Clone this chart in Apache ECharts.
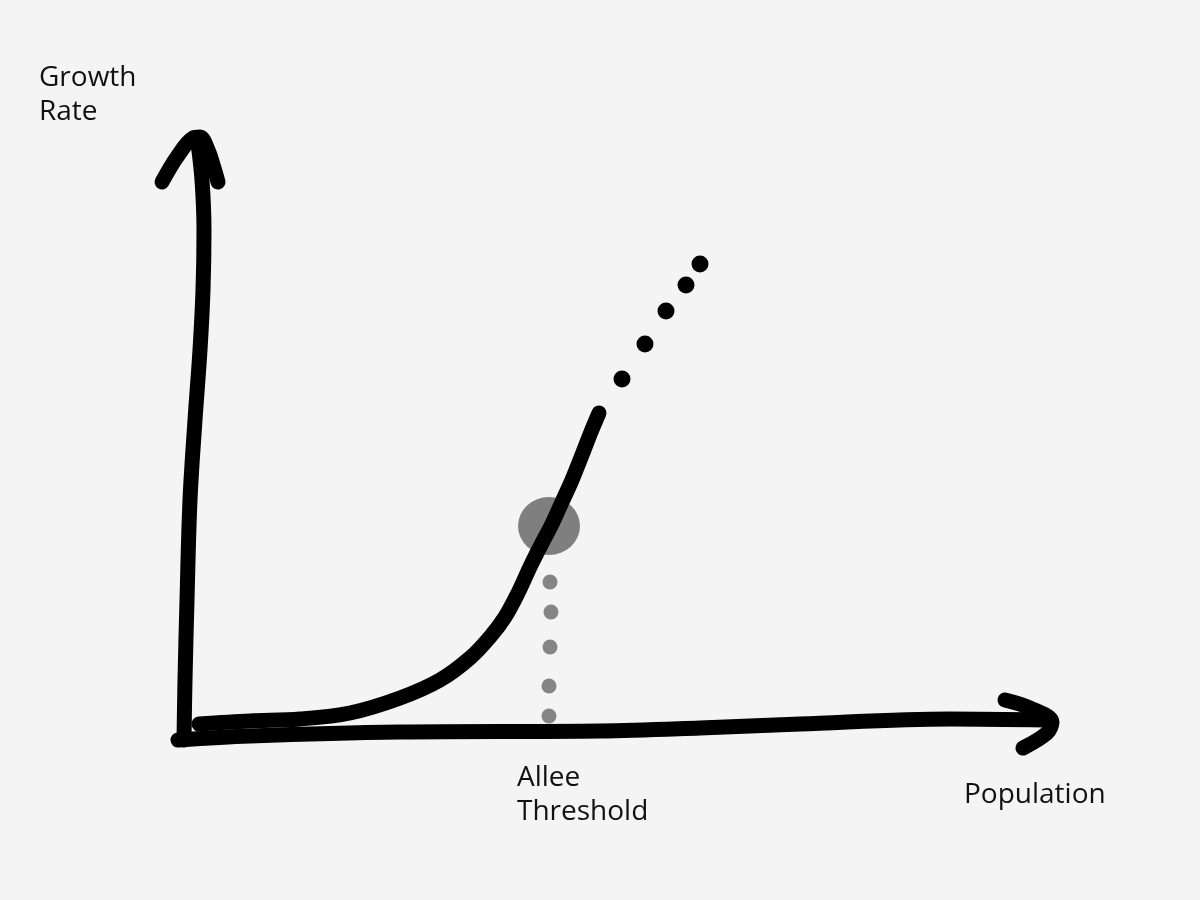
<!DOCTYPE html>
<html>
<head>
<meta charset="utf-8">
<script src="https://cdn.jsdelivr.net/npm/echarts@6/dist/echarts.min.js"></script>
<style>
  html, body { margin: 0; padding: 0; background: #f4f4f4; }
  #chart { width: 1200px; height: 900px; }
</style>
</head>
<body>
<div id="chart"></div>
<script>
// Hand-drawn sketch values in chart units (population on x, growth rate on y)
var yAxisStroke = [[-0.01,-0.05],[0.00,0.55],[0.02,1.35],[0.05,2.35],[0.10,3.15],[0.15,3.85],[0.18,4.45],[0.19,5.05],[0.17,5.55],[0.13,5.92]];
var yArrowHead  = [[-0.23,5.53],[-0.08,5.78],[0.08,5.97],[0.15,5.98],[0.23,5.85],[0.29,5.67],[0.33,5.53]];
var xAxisStroke = [[-0.07,-0.05],[0.65,-0.01],[2.15,0.03],[4.15,0.04],[5.15,0.07],[6.15,0.11],[7.65,0.16],[8.62,0.15]];
var xArrowHead  = [[8.20,0.35],[8.45,0.27],[8.67,0.13],[8.62,0.02],[8.38,-0.13]];
var growthCurve = [[0.14,0.11],[0.65,0.14],[1.15,0.16],[1.65,0.22],[2.15,0.37],[2.55,0.55],[2.85,0.77],[3.05,0.98],[3.20,1.18],[3.33,1.42],[3.45,1.68],[3.56,1.90],[3.67,2.11],[3.77,2.33],[3.87,2.55],[3.97,2.80],[4.06,3.03],[4.14,3.22]];
var growthDots  = [[4.37,3.56],[4.60,3.91],[4.81,4.24],[5.01,4.50],[5.15,4.71]];
var alleePoint  = [[3.64,2.09]];
var alleeDrop   = [[3.65,1.53],[3.66,1.23],[3.65,0.88],[3.64,0.49],[3.64,0.19]];
var labelGrowth = 'Growth\nRate';
var labelAllee  = 'Allee\nThreshold';
var labelPop    = 'Population';

var chart = echarts.init(document.getElementById('chart'), null, { renderer: 'canvas' });

function stroke(data, z) {
  return {
    type: 'line', data: data, smooth: 0.35, showSymbol: false, clip: false,
    z: z || 3, silent: true, animation: false,
    lineStyle: { color: '#000', width: 15, cap: 'round', join: 'round' }
  };
}

var textStyle = { fontFamily: 'Open Sans', fontSize: 28, fill: '#111', lineHeight: 34 };

chart.setOption({
  backgroundColor: '#f4f4f4',
  animation: false,
  grid: { left: 135, right: 115, top: 135, bottom: 115 },
  xAxis: { type: 'value', min: -0.5, max: 9.0, show: false },
  yAxis: { type: 'value', min: -0.5, max: 6.0, show: false },
  series: [
    stroke(yAxisStroke),
    stroke(yArrowHead),
    stroke(xAxisStroke),
    stroke(xArrowHead),
    {
      type: 'scatter', data: alleePoint, symbol: 'circle', symbolSize: [62, 58],
      itemStyle: { color: '#7f7f7f', opacity: 1 }, z: 2, clip: false, silent: true
    },
    {
      type: 'scatter', data: alleeDrop, symbol: 'circle', symbolSize: 15,
      itemStyle: { color: '#858585', opacity: 1 }, z: 2, clip: false, silent: true
    },
    stroke(growthCurve, 4),
    {
      type: 'scatter', data: growthDots, symbol: 'circle', symbolSize: 17,
      itemStyle: { color: '#000', opacity: 1 }, z: 4, clip: false, silent: true
    }
  ],
  graphic: [
    { type: 'text', left: 39, top: 61, style: Object.assign({ text: labelGrowth }, textStyle) },
    { type: 'text', left: 517, top: 761, style: Object.assign({ text: labelAllee }, textStyle) },
    { type: 'text', left: 964, top: 778, style: Object.assign({ text: labelPop }, textStyle) }
  ]
});
</script>
</body>
</html>
